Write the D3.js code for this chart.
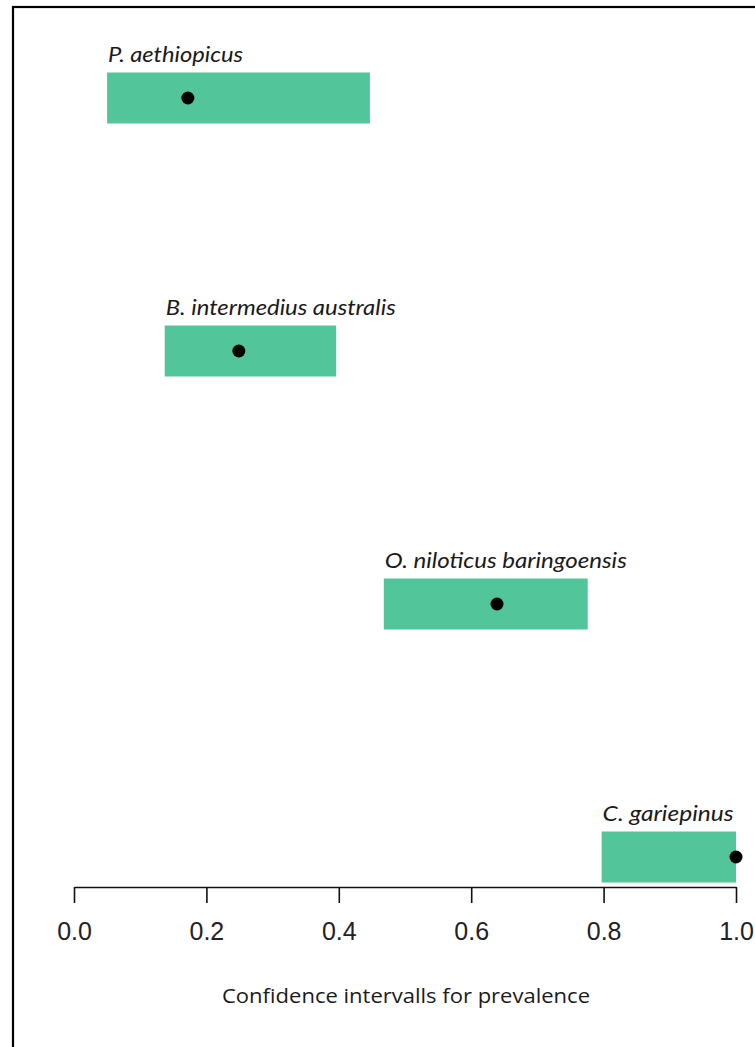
<!DOCTYPE html>
<html>
<head>
<meta charset="utf-8">
<script src="https://cdn.jsdelivr.net/npm/d3@7"></script>
<style>
  html, body { margin: 0; padding: 0; background: #fff; }
  svg { display: block; }
</style>
</head>
<body>
<svg id="chart" width="755" height="1047"></svg>
<script>
// Species and their prevalence estimates with confidence limits
const species = [
  "P. aethiopicus",
  "B. intermedius australis",
  "O. niloticus baringoensis",
  "C. gariepinus"
];
const lower    = [0.05, 0.137, 0.468, 0.797];
const upper    = [0.447, 0.396, 0.776, 1.0];
const estimate = [0.172, 0.249, 0.639, 1.0];
const xTicks = [0.0, 0.2, 0.4, 0.6, 0.8, 1.0];
const xTitle = "Confidence intervalls for prevalence";

const rows = species.map((s, i) => ({ name: s, lo: lower[i], hi: upper[i], est: estimate[i] }));

const svg = d3.select("#chart");

// outer frame (runs off the right and bottom edges)
svg.append("rect")
  .attr("x", 13).attr("y", 7)
  .attr("width", 800).attr("height", 1100)
  .attr("fill", "none").attr("stroke", "#000").attr("stroke-width", 2.2);

const x = d3.scaleLinear().domain([0, 1]).range([74, 736]);
const y = d3.scalePoint().domain(species).range([98, 857]);
const barH = 51;

// interval bars
svg.append("g").selectAll("rect")
  .data(rows).join("rect")
  .attr("x", d => x(d.lo))
  .attr("y", d => y(d.name) - barH / 2)
  .attr("width", d => x(d.hi) - x(d.lo))
  .attr("height", barH)
  .attr("fill", "#53c59b");

// point estimates
svg.append("g").selectAll("circle")
  .data(rows).join("circle")
  .attr("cx", d => x(d.est))
  .attr("cy", d => y(d.name))
  .attr("r", 6.5)
  .attr("fill", "#000");

// species labels above each bar
const labelWidths = { "P. aethiopicus": 135, "B. intermedius australis": 230,
  "O. niloticus baringoensis": 242, "C. gariepinus": 131 };
svg.append("g").selectAll("text")
  .data(rows).join("text")
  .attr("x", d => x(d.lo) + 1)
  .attr("y", d => y(d.name) - barH / 2 - 11)
  .attr("font-family", "Lato, 'Open Sans', sans-serif")
  .attr("font-style", "italic")
  .attr("font-size", 21)
  .attr("fill", "#1a1a1a")
  .attr("textLength", d => labelWidths[d.name])
  .attr("lengthAdjust", "spacingAndGlyphs")
  .text(d => d.name);

// x axis
const axis = d3.axisBottom(x)
  .tickValues(xTicks)
  .tickFormat(d3.format(".1f"))
  .tickSize(16)
  .tickSizeOuter(0)
  .tickPadding(19);

const gx = svg.append("g")
  .attr("transform", "translate(0,887)")
  .call(axis);
gx.select(".domain").attr("stroke", "#111").attr("stroke-width", 1.6);
gx.selectAll(".tick line").attr("stroke", "#111").attr("stroke-width", 1.6);
gx.selectAll(".tick text")
  .attr("font-family", "'Liberation Sans', Arial, sans-serif")
  .attr("font-size", 25)
  .attr("fill", "#222");

// axis title
svg.append("text")
  .attr("x", 406).attr("y", 1003)
  .attr("text-anchor", "middle")
  .attr("font-family", "'Open Sans', Lato, sans-serif")
  .attr("font-size", 20)
  .attr("fill", "#1a1a1a")
  .attr("textLength", 368)
  .attr("lengthAdjust", "spacingAndGlyphs")
  .text(xTitle);
</script>
</body>
</html>
